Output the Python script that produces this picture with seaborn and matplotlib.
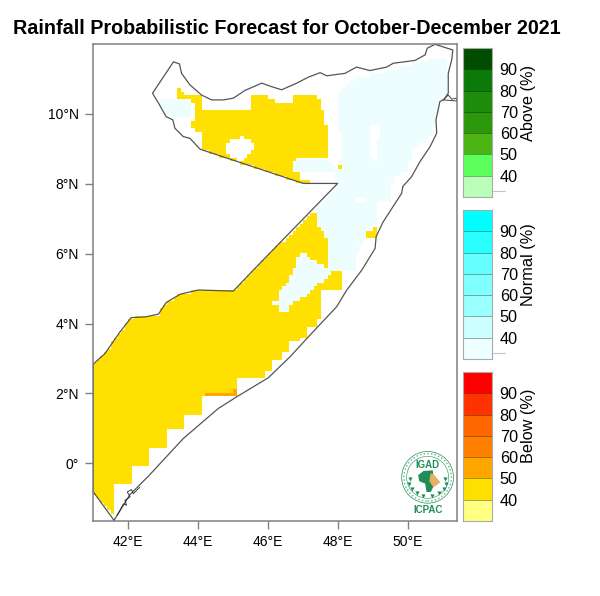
import numpy as np
import pandas as pd
import matplotlib
matplotlib.use('Agg')
import matplotlib.pyplot as plt
from matplotlib.colors import ListedColormap
from matplotlib.patches import Circle, Polygon
from matplotlib.path import Path
import seaborn as sns

# ---- coast and borders (lon, lat)
coast_lon = [41.60,42.06,42.58,43.58,44.58,45.10,46.01,46.63,47.20,47.96,48.25,48.68,49.06,49.09,49.29,49.82,49.85,50.10,50.34,50.63,50.82,50.80,50.91,51.03,51.15,51.15,51.25,51.28,50.77,50.55,50.49,50.20,49.58,49.39,48.91,48.53,48.20,47.68,47.49,47.15,46.82,46.39,46.10,45.82,45.34,45.01,44.72,44.39,44.10,43.77,43.53,43.47,43.30,42.70,42.87,43.09,43.28,43.34,43.58,43.77,44.06,47.01,47.99,45.58,45.01,44.01,43.49,43.09,42.87,42.49,42.09,41.77,41.34,41.01,41.01,41.60]
coast_lat = [-1.63,-0.89,-0.37,0.71,1.57,1.90,2.45,3.05,3.67,4.48,4.96,5.53,6.15,6.49,6.91,7.73,7.92,8.20,8.63,9.06,9.45,9.83,10.35,10.42,10.59,11.16,11.55,11.83,11.99,11.88,11.69,11.53,11.45,11.34,11.24,11.34,11.16,11.09,11.18,11.05,10.88,10.69,10.78,10.88,10.67,10.45,10.40,10.40,10.54,10.83,11.16,11.43,11.49,10.59,10.31,9.92,9.83,9.59,9.35,9.30,8.99,8.01,8.01,5.53,4.93,4.96,4.84,4.60,4.27,4.19,4.17,3.76,3.14,2.84,-0.82,-1.63]
islets_lon = [41.69,41.87,41.96,41.91,42.06,41.98,42.10,42.15,42.34]
islets_lat = [-1.49,-1.16,-1.20,-1.06,-0.96,-0.82,-0.75,-0.87,-0.68]
cape_lon = [51.01,51.15,51.25,51.39,51.39,51.01]
cape_lat = [10.40,10.54,10.42,10.45,10.37,10.40]

# ---- forecast regions (lon, lat)
normal_main_lon = [50.47,51.06,51.06,51.10,50.91,50.82,50.63,50.10,50.01,49.56,49.53,49.06,49.06,48.77,48.53,48.53,48.63,48.44,48.15,47.90,47.40,47.20,46.00,46.00,47.44,47.99,47.91,47.87,48.15,48.10,47.96,47.96,48.15,48.53]
normal_main_lat = [11.53,11.53,11.16,10.64,10.40,9.88,9.30,8.97,8.35,8.20,7.49,7.44,6.91,6.48,6.01,5.53,5.53,5.45,5.45,5.20,4.85,4.30,4.20,5.60,7.36,8.01,8.06,8.35,8.78,9.30,9.83,10.54,10.78,11.02]
normal_nw_lon = [42.87,43.68,43.82,43.82,43.30,43.09,42.87]
normal_nw_lat = [10.42,10.42,10.26,9.85,9.85,10.00,10.30]
normal_pocket_lon = [46.68,46.87,47.66,47.85,47.87,47.01,46.68]
normal_pocket_lat = [8.57,8.76,8.76,8.57,8.35,8.32,8.35]
white_inland_lon = [48.96,49.25,49.15,49.15,48.96,48.87,48.87]
white_inland_lat = [9.73,9.62,9.25,8.68,8.68,9.06,9.54]
white_notch_lon = [48.49,48.82,48.82,48.49]
white_notch_lat = [7.55,7.63,7.44,7.46]

below_south_lon = [47.44,47.34,47.39,47.63,47.75,47.66,47.25,47.01,46.87,46.72,46.68,46.49,46.34,46.34,45.96,46.25,46.30,46.58,46.68,47.01,47.20,47.39,47.58,47.77,47.91,48.15,48.15,48.06,48.06,47.55,47.55,47.36,47.36,47.06,47.06,46.87,46.87,46.56,46.56,46.36,46.36,46.06,46.06,45.87,45.87,45.06,45.06,44.06,44.06,43.56,43.56,43.07,43.07,42.56,42.56,42.06,42.06,41.56,41.56,41.00,41.00,41.34,41.77,42.09,42.49,42.87,43.09,43.49,44.01,45.01,45.58]
below_south_lat = [7.34,7.25,6.77,6.53,6.20,5.64,5.82,6.03,5.91,5.53,5.39,5.15,5.00,4.67,4.55,4.50,4.36,4.36,4.62,4.75,4.94,5.15,5.24,5.39,5.53,5.53,5.45,5.39,4.96,4.94,4.15,4.15,3.95,3.95,3.65,3.65,3.45,3.45,3.16,3.16,2.95,2.95,2.65,2.65,2.45,2.45,1.95,1.95,1.44,1.44,0.95,0.95,0.45,0.45,-0.06,-0.06,-0.56,-0.56,-1.49,-0.82,2.84,3.14,3.76,4.17,4.19,4.27,4.60,4.84,4.96,4.93,5.53]
below_north_lon = [43.37,43.49,43.58,44.06,44.06,45.47,45.47,45.96,45.96,46.25,46.25,46.74,46.74,47.37,47.47,47.47,47.56,47.56,47.66,47.66,47.75,47.75,47.66,47.66,46.87,46.68,46.68,46.87,46.96,47.25,47.25,47.56,47.56,47.01,44.06,44.06,43.77,43.77,43.87,43.87,43.72,43.58,43.37]
below_north_lat = [10.64,10.74,10.54,10.54,10.07,10.07,10.54,10.54,10.45,10.45,10.35,10.35,10.54,10.54,10.42,10.16,10.13,9.64,9.64,9.04,9.04,8.95,8.95,8.76,8.76,8.57,8.35,8.32,8.11,8.11,8.01,8.03,7.96,7.99,8.99,9.45,9.59,9.73,9.83,10.31,10.40,10.40,10.45]
white_hole_lon = [44.77,44.91,45.25,45.49,45.65,45.53,45.39,45.25,44.96,44.77]
white_hole_lat = [9.06,9.30,9.33,9.21,9.04,8.92,8.82,8.63,8.78,8.92]
below_dot_lon = [47.95,48.06,48.06,47.95]
below_dot_lat = [8.53,8.53,8.42,8.42]
below_east_lon = [48.77,48.77,48.93,48.99,49.06,49.06]
below_east_lat = [6.44,6.60,6.63,6.75,6.75,6.44]
orange_lon = [44.15,44.95,44.95,45.06,45.06,44.15]
orange_lat = [2.05,2.05,2.15,2.15,1.95,1.95]

# ---- axes and colour bars
lon_ticks = [42, 44, 46, 48, 50]
lat_ticks = [0, 2, 4, 6, 8, 10]
bar_ticks = [90, 80, 70, 60, 50, 40]
above_colors = ['#004d00', '#0b7a0b', '#1c8c0a', '#2a980a', '#4cb414', '#5cff5c', '#b9ffb9']
normal_colors = ['#00ffff', '#2affff', '#66ffff', '#80ffff', '#99ffff', '#ccffff', '#eeffff']
below_colors = ['#ff0000', '#ff3300', '#ff6600', '#ff8000', '#ffa500', '#ffdf00', '#ffff80']
field_colors = ['#ffffff', '#eefdfd', '#ffe000', '#ffa500']

# ---- logo
africa_lon = [50.29,50.44,50.71,50.72,50.91,50.72,50.65,50.53,50.49,50.32]
africa_lat = [-0.34,-0.22,-0.20,-0.32,-0.54,-0.68,-0.82,-0.82,-0.58,-0.51]
horn_lon = [50.65,50.74,50.91,50.72,50.61]
horn_lat = [-0.28,-0.32,-0.54,-0.68,-0.51]
wreath_lon = [50.06,50.04,50.11,50.25,50.44,51.07,51.09,51.02,50.88,50.69]
wreath_lat = [-0.44,-0.58,-0.73,-0.85,-0.94,-0.44,-0.58,-0.73,-0.85,-0.94]

sns.set_theme(style='white')
plt.rcParams['font.family'] = ['Liberation Sans', 'DejaVu Sans']

W, H = 600, 596
LON0, LON1, LAT0, LAT1 = 41.0, 51.4, -1.65, 12.0
NX, NY = 104, 130
GREY = '#808080'
LOGO = '#1f8f55'


def px_rect(left, top, right, bottom):
    return [left / W, 1 - bottom / H, (right - left) / W, (bottom - top) / H]


# cell centres, top row first as heatmap wants it
dx = (LON1 - LON0) / NX
dy = (LAT1 - LAT0) / NY
xx, yy = np.meshgrid(LON0 + dx * (np.arange(NX) + 0.5), LAT1 - dy * (np.arange(NY) + 0.5))
pts = np.column_stack([xx.ravel(), yy.ravel()])
field = np.zeros((NY, NX), dtype=int)


def paint(lons, lats, code):
    mask = Path(np.column_stack([lons, lats])).contains_points(pts).reshape(field.shape)
    field[mask] = code


paint(normal_main_lon, normal_main_lat, 1)
paint(normal_nw_lon, normal_nw_lat, 1)
paint(normal_pocket_lon, normal_pocket_lat, 1)
paint(white_inland_lon, white_inland_lat, 0)
paint(white_notch_lon, white_notch_lat, 0)
paint(below_south_lon, below_south_lat, 2)
paint(below_north_lon, below_north_lat, 2)
paint(white_hole_lon, white_hole_lat, 0)
paint(below_dot_lon, below_dot_lat, 2)
paint(below_east_lon, below_east_lat, 2)
paint(orange_lon, orange_lat, 3)

fig = plt.figure(figsize=(W / 100, H / 100), dpi=100)
fig.patch.set_facecolor('white')

# forecast field underneath
map_rect = px_rect(93, 44, 457, 521)
ax_field = fig.add_axes(map_rect)
sns.heatmap(field, ax=ax_field, cmap=ListedColormap(field_colors), vmin=-0.5, vmax=3.5,
            cbar=False, xticklabels=False, yticklabels=False)

# coast, ticks and logo on top in real coordinates
ax = fig.add_axes(map_rect, facecolor='none')
sns.lineplot(x=coast_lon, y=coast_lat, sort=False, estimator=None, color='#555555', lw=0.9, ax=ax)
sns.lineplot(x=islets_lon, y=islets_lat, sort=False, estimator=None, color='#222222', lw=0.6, ax=ax)
sns.lineplot(x=cape_lon, y=cape_lat, sort=False, estimator=None, color='#444444', lw=0.7, ax=ax)
ax.set_xlim(LON0, LON1)
ax.set_ylim(LAT0, LAT1)
ax.set_xticks(lon_ticks)
ax.set_xticklabels([f'{v}°E' for v in lon_ticks], fontsize=10, color='black')
ax.set_yticks(lat_ticks)
ax.set_yticklabels([f'{v}°N' if v else '0°' for v in lat_ticks], fontsize=10, color='black')
ax.tick_params(axis='both', direction='out', length=6, width=1.0, color=GREY, bottom=True, left=True, pad=4)
for s in ax.spines.values():
    s.set_visible(True)
    s.set_color(GREY)
    s.set_linewidth(1.1)

# IGAD logo
ax.add_patch(Circle((50.56, -0.40), 0.74, fill=False, ec=LOGO, lw=0.5))
ax.add_patch(Circle((50.56, -0.40), 0.68, fill=False, ec=LOGO, lw=1.0, ls=':', alpha=0.7))
ax.add_patch(Circle((50.56, -0.40), 0.60, fill=False, ec=LOGO, lw=0.4))
ax.add_patch(Polygon(np.column_stack([africa_lon, africa_lat]), fc=LOGO, ec='none'))
ax.add_patch(Polygon(np.column_stack([horn_lon, horn_lat]), fc='#e8b060', ec='none'))
sns.scatterplot(x=wreath_lon, y=wreath_lat, marker='v', s=9, color=LOGO, linewidth=0, ax=ax)
ax.text(50.56, -0.06, 'IGAD', color=LOGO, fontsize=7, fontweight='bold', ha='center', va='center')
ax.text(50.56, -1.33, 'ICPAC', color=LOGO, fontsize=7, fontweight='bold', ha='center', va='center')

fig.text(286.5 / W, 1 - 28 / H, 'Rainfall Probabilistic Forecast for October-December 2021',
         fontsize=14.2, fontweight='bold', color='black', ha='center', va='center')


def colour_bar(colors, top, bottom, label, label_y, scribble):
    cax = fig.add_axes(px_rect(463, top, 492, bottom))
    levels = pd.DataFrame({'level': np.arange(len(colors))})
    sns.heatmap(levels, ax=cax, cmap=ListedColormap(colors), cbar=False,
                linewidths=0.5, linecolor='#00000055', xticklabels=False, yticklabels=False)
    cax.yaxis.tick_right()
    cax.set_yticks(np.arange(1, len(bar_ticks) + 1))
    cax.set_yticklabels(bar_ticks, rotation=0, fontsize=11.7, color='black')
    cax.tick_params(axis='y', length=0, pad=5.5, right=False, left=False)
    cax.set_ylabel('')
    for s in cax.spines.values():
        s.set_visible(True)
        s.set_color('#aaaaaa')
        s.set_linewidth(0.8)
    if scribble:
        cax.plot([1.0, 1.45], [6.7, 6.7], color='#c4c4c4', lw=0.8, clip_on=False)
    fig.text(528.5 / W, 1 - label_y / H, label, rotation=90, fontsize=11.7,
             color='black', ha='center', va='center')


colour_bar(above_colors, 48, 197, 'Above (%)', 103, True)
colour_bar(normal_colors, 210, 359, 'Normal (%)', 265, True)
colour_bar(below_colors, 372, 521, 'Below (%)', 426, False)

fig.savefig('out.png', dpi=100, facecolor='white')
